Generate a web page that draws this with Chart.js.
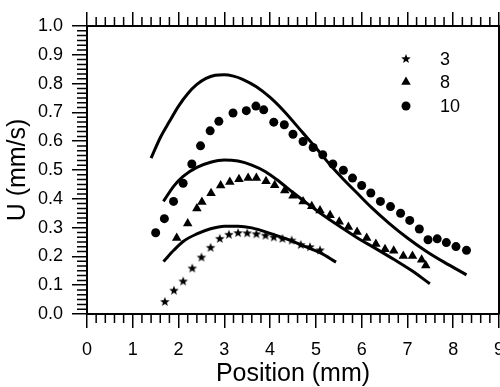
<!DOCTYPE html>
<html><head><meta charset="utf-8">
<script src="https://cdn.jsdelivr.net/npm/chart.js@4.4.1/dist/chart.umd.min.js"></script>
<style>
html,body{margin:0;padding:0;overflow:hidden;background:#fff;width:500px;height:387px}
#wrap{width:520px;height:387px;position:relative}
</style></head>
<body><div id="wrap"><canvas id="c" width="520" height="387"></canvas></div>
<script>
// ---- data ----
const seriesLabels = ['3', '8', '10'];
const yTickLabels = ['0.0','0.1','0.2','0.3','0.4','0.5','0.6','0.7','0.8','0.9','1.0'];
const xTickLabels = ['0','1','2','3','4','5','6','7','8','9'];

const starX = [1.70,1.90,2.10,2.30,2.50,2.70,2.90,3.10,3.30,3.50,3.70,3.90,4.08,4.27,4.47,4.67,4.87,5.09];
const starY = [0.042,0.081,0.113,0.158,0.196,0.230,0.261,0.275,0.281,0.280,0.277,0.272,0.266,0.261,0.255,0.240,0.232,0.221];

const triX = [1.96,2.20,2.40,2.51,2.71,2.92,3.12,3.32,3.52,3.70,3.91,4.10,4.32,4.50,4.72,4.91,5.09,5.31,5.51,5.71,5.90,6.11,6.31,6.51,6.70,6.91,7.11,7.31,7.40];
const triY = [0.264,0.314,0.366,0.389,0.419,0.446,0.458,0.468,0.472,0.472,0.461,0.447,0.429,0.411,0.391,0.374,0.359,0.343,0.320,0.302,0.285,0.264,0.243,0.225,0.220,0.201,0.201,0.188,0.168];

const circX = [1.50,1.69,1.89,2.10,2.29,2.48,2.69,2.88,3.19,3.48,3.69,3.86,4.08,4.31,4.50,4.72,4.94,5.15,5.37,5.60,5.80,6.00,6.20,6.41,6.63,6.85,7.05,7.26,7.45,7.65,7.85,8.06,8.29];
const circY = [0.282,0.331,0.391,0.454,0.521,0.584,0.636,0.669,0.698,0.706,0.722,0.709,0.666,0.657,0.624,0.599,0.578,0.553,0.521,0.499,0.472,0.446,0.420,0.391,0.373,0.350,0.325,0.295,0.258,0.261,0.248,0.234,0.221];

const fit3X = [1.67,1.90,2.10,2.40,2.70,3.00,3.30,3.60,4.00,4.40,4.80,5.10,5.44];
const fit3Y = [0.182,0.222,0.252,0.278,0.296,0.305,0.305,0.299,0.280,0.258,0.232,0.212,0.180];

const fit8X = [1.67,1.90,2.10,2.40,2.70,3.00,3.30,3.60,3.90,4.20,4.50,4.80,5.10,5.50,5.90,6.30,6.70,7.10,7.49];
const fit8Y = [0.391,0.445,0.478,0.509,0.527,0.535,0.531,0.517,0.494,0.460,0.422,0.385,0.350,0.306,0.265,0.228,0.190,0.150,0.105];

const fit10X = [1.40,1.60,1.80,2.00,2.20,2.40,2.60,2.80,3.00,3.20,3.40,3.70,4.00,4.30,4.70,5.00,5.30,5.60,5.90,6.20,6.60,7.00,7.40,7.80,8.29];
const fit10Y = [0.541,0.612,0.668,0.722,0.765,0.797,0.818,0.829,0.831,0.826,0.815,0.789,0.752,0.705,0.632,0.577,0.520,0.468,0.420,0.372,0.315,0.264,0.219,0.180,0.136];

// ---- helpers ----
const FONT = '"Liberation Sans", Arial, Helvetica, sans-serif';
const pts = (xs, ys) => xs.map((x, i) => ({x, y: ys[i]}));

function makeStar(r) {
  const s = Math.ceil(r * 2 + 2);
  const c = document.createElement('canvas');
  c.width = s; c.height = s;
  const g = c.getContext('2d');
  g.fillStyle = '#000';
  g.beginPath();
  for (let i = 0; i < 10; i++) {
    const rr = i % 2 === 0 ? r : r * 0.42;
    const a = -Math.PI / 2 + i * Math.PI / 5;
    const px = s / 2 + rr * Math.cos(a), py = s / 2 + rr * Math.sin(a);
    if (i === 0) g.moveTo(px, py); else g.lineTo(px, py);
  }
  g.closePath(); g.fill();
  return c;
}
const starImg = makeStar(5);

const lineDs = (xs, ys) => ({
  type: 'line', data: pts(xs, ys), showLine: true, borderColor: '#000', borderWidth: 3,
  pointRadius: 0, fill: false, cubicInterpolationMode: 'monotone', order: 2
});
const markDs = (label, xs, ys, style, r) => ({
  type: 'scatter', label, data: pts(xs, ys), pointStyle: style, pointRadius: r,
  backgroundColor: '#000', borderColor: '#000', borderWidth: 0, order: 1
});

const minorTicks = {
  id: 'minorTicks',
  afterDraw(chart) {
    const {ctx, chartArea: a, scales} = chart;
    ctx.save();
    ctx.strokeStyle = '#000'; ctx.lineWidth = 1.5;
    ctx.beginPath();
    for (let i = 0; i <= 45; i++) {
      if (i % 5 === 0) continue;
      const px = scales.x.getPixelForValue(i / 5);
      ctx.moveTo(px, a.bottom); ctx.lineTo(px, a.bottom + 9);
      ctx.moveTo(px, a.top); ctx.lineTo(px, a.top - 9);
    }
    for (let i = 0; i <= 60; i++) {
      if (i % 6 === 0) continue;
      const py = scales.y.getPixelForValue(i / 60);
      ctx.moveTo(a.left, py); ctx.lineTo(a.left - 10, py);
      ctx.moveTo(a.right, py); ctx.lineTo(a.right + 10, py);
    }
    ctx.stroke();
    ctx.restore();
  }
};

const legendPlugin = {
  id: 'insideLegend',
  afterDraw(chart) {
    const {ctx, chartArea: a} = chart;
    const sx = a.right - 93, tx = a.right - 59;
    const rows = [33, 56, 80];
    ctx.save();
    ctx.fillStyle = '#000';
    ctx.font = '18px ' + FONT;
    ctx.textBaseline = 'middle';
    ctx.textAlign = 'left';
    chart.data.datasets.filter(d => d.type === 'scatter').forEach((d, i) => {
      const y = a.top + rows[i];
      if (d.pointStyle instanceof HTMLCanvasElement) {
        ctx.drawImage(d.pointStyle, sx - d.pointStyle.width / 2, y - d.pointStyle.height / 2);
      } else if (d.pointStyle === 'triangle') {
        const r = d.pointRadius;
        ctx.beginPath();
        for (let k = 0; k < 3; k++) {
          const ang = k * 2 * Math.PI / 3;
          const px = sx + Math.sin(ang) * r, py = y - Math.cos(ang) * r;
          if (k === 0) ctx.moveTo(px, py); else ctx.lineTo(px, py);
        }
        ctx.closePath(); ctx.fill();
      } else {
        ctx.beginPath(); ctx.arc(sx, y, d.pointRadius, 0, Math.PI * 2); ctx.fill();
      }
      ctx.fillText(d.label, tx, y + 1);
    });
    ctx.restore();
  }
};

const gridOpt = (len) => ({drawOnChartArea: false, drawTicks: true, tickLength: len, color: '#000', lineWidth: 1.5});
const borderOpt = {display: true, color: '#000', width: 2};

new Chart(document.getElementById('c'), {
  data: {
    datasets: [
      lineDs(fit3X, fit3Y),
      lineDs(fit8X, fit8Y),
      lineDs(fit10X, fit10Y),
      markDs(seriesLabels[0], starX, starY, starImg, 5),
      markDs(seriesLabels[1], triX, triY, 'triangle', 5.5),
      markDs(seriesLabels[2], circX, circY, 'circle', 4.5)
    ]
  },
  options: {
    responsive: false, animation: false, devicePixelRatio: 1,
    layout: {padding: 0},
    plugins: {legend: {display: false}, tooltip: {enabled: false}},
    scales: {
      x: {
        type: 'linear', position: 'bottom', min: 0, max: 9,
        ticks: {stepSize: 1, color: '#000', font: {size: 18, family: FONT}, padding: 11, maxRotation: 0, autoSkip: false,
                callback: (v, i) => xTickLabels[i]},
        grid: gridOpt(14), border: borderOpt,
        title: {display: true, text: 'Position (mm)', color: '#000', font: {size: 25, family: FONT, lineHeight: 1}, padding: {top: 0, bottom: 0}},
        afterFit(s) { s.height = 73; }
      },
      x2: {
        type: 'linear', position: 'top', min: 0, max: 9,
        ticks: {stepSize: 1, display: false},
        grid: gridOpt(14), border: borderOpt,
        afterFit(s) { s.height = 26; }
      },
      y: {
        type: 'linear', position: 'left', min: 0, max: 1,
        ticks: {stepSize: 0.1, color: '#000', font: {size: 18, family: FONT}, padding: 9,
                callback: (v, i) => yTickLabels[i]},
        grid: gridOpt(15), border: borderOpt,
        title: {display: true, text: 'U (mm/s)', color: '#000', font: {size: 25, family: FONT, lineHeight: 1}, padding: {top: 6, bottom: 0}},
        afterFit(s) { s.width = 87; }
      },
      y2: {
        type: 'linear', position: 'right', min: 0, max: 1,
        ticks: {stepSize: 0.1, display: false},
        grid: gridOpt(15), border: borderOpt,
        afterFit(s) { s.width = 21; }
      }
    }
  },
  plugins: [minorTicks, legendPlugin]
});
</script>
</body></html>
